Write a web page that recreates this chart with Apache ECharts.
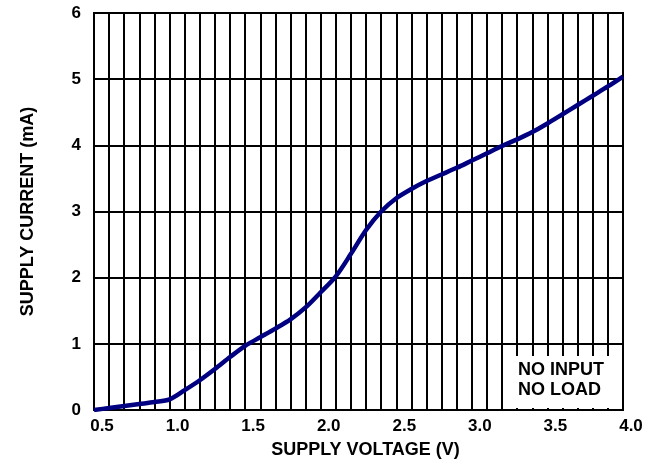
<!DOCTYPE html>
<html><head><meta charset="utf-8">
<script src="https://cdn.jsdelivr.net/npm/echarts@6/dist/echarts.min.js"></script>
<style>html,body{margin:0;padding:0;background:#fff}#c{width:662px;height:464px}</style>
</head><body><div id="c"></div>
<script>
var voltage = [0.5,0.6,0.7,0.8,0.9,1.0,1.1,1.2,1.3,1.4,1.5,1.6,1.7,1.8,1.9,2.0,2.1,2.2,2.3,2.4,2.5,2.6,2.7,2.8,2.9,3.0,3.1,3.2,3.3,3.4,3.5,3.6,3.7,3.8,3.9,4.0];
var current = [0,0.03,0.06,0.09,0.12,0.16,0.30,0.45,0.62,0.80,0.97,1.10,1.23,1.37,1.55,1.78,2.02,2.36,2.72,3.0,3.2,3.34,3.46,3.56,3.66,3.77,3.88,3.99,4.09,4.20,4.33,4.47,4.61,4.75,4.89,5.04];
var xTickLabels = ['0.5','1.0','1.5','2.0','2.5','3.0','3.5','4.0'];
var yTickLabels = ['0','1','2','3','4','5','6'];
var xTitle = 'SUPPLY VOLTAGE (V)';
var yTitle = 'SUPPLY CURRENT (mA)';
var noteLines = ['NO INPUT','NO LOAD'];

var chart = echarts.init(document.getElementById('c'));
var font = 'Liberation Sans, Arial, sans-serif';
chart.setOption({
  animation:false,
  grid:{left:94,right:39,top:13,bottom:52,show:true,borderColor:'#000',borderWidth:2},
  xAxis:{type:'value',min:0.5,max:4.0,interval:0.1,
    name:xTitle,nameLocation:'middle',nameGap:31,
    nameTextStyle:{fontFamily:font,fontWeight:'bold',fontSize:18,color:'#000',padding:[0,0,0,14]},
    axisLine:{show:true,lineStyle:{color:'#000',width:2}},
    axisTick:{show:false},
    axisLabel:{interval:0,margin:8,fontFamily:font,fontWeight:'bold',fontSize:17,color:'#000',padding:[0,0,0,16],
      formatter:function(v){var s=v.toFixed(1);return xTickLabels.indexOf(s)>=0?s:'';}},
    splitLine:{show:true,lineStyle:{color:'#000',width:2}}},
  yAxis:{type:'value',min:0,max:6,interval:1,
    name:yTitle,nameLocation:'middle',nameGap:57,
    nameTextStyle:{fontFamily:font,fontWeight:'bold',fontSize:18,color:'#000'},
    axisLine:{show:true,lineStyle:{color:'#000',width:2}},
    axisTick:{show:false},
    axisLabel:{margin:13,fontFamily:font,fontWeight:'bold',fontSize:17,color:'#000',
      formatter:function(v){var s=String(Math.round(v));return yTickLabels.indexOf(s)>=0?s:'';}},
    splitLine:{show:true,lineStyle:{color:'#000',width:2}}},
  graphic:[{type:'group',left:509,top:356,z:50,children:[
    {type:'rect',z:50,shape:{x:0,y:0,width:106,height:52},style:{fill:'#fff'}},
    {type:'text',z:51,style:{x:9,y:4,text:noteLines.join('\n'),textAlign:'left',lineHeight:20,
      fontFamily:font,fontWeight:'bold',fontSize:18,fill:'#000'}}]}],
  series:[{type:'line',smooth:0.3,symbol:'none',
    data:voltage.map(function(v,i){return [v,current[i]];}),
    lineStyle:{color:'#000080',width:4.5}}]
});
</script></body></html>
